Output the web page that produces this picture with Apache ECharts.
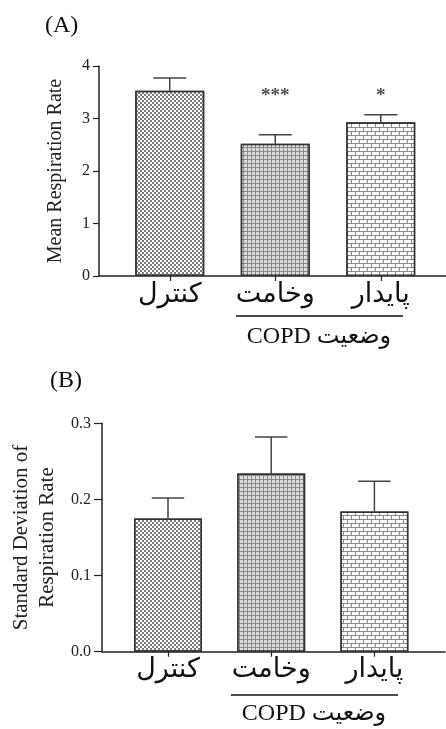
<!DOCTYPE html>
<html>
<head>
<meta charset="utf-8">
<script src="https://cdn.jsdelivr.net/npm/echarts@6/dist/echarts.min.js"></script>
<style>
  html, body {margin: 0; padding: 0; background: #fff;}
  #chart {width: 446px; height: 729px;}
</style>
</head>
<body>
<div id="chart"></div>
<script>
// groups, left to right
const categories = ['کنترل', 'وخامت', 'پایدار'];
const groupLabel = 'COPD وضعیت';

// (A) mean respiration rate, with upper error (SEM)
const meanRate = [3.53, 2.52, 2.93];
const meanErr = [0.24, 0.17, 0.14];
const stars = ['', '***', '*'];
const starLevel = 3.42;
const meanTicks = {min: 0, max: 4, interval: 1};

// (B) standard deviation of respiration rate
const sdRate = [0.175, 0.234, 0.184];
const sdErr = [0.027, 0.048, 0.040];
const sdTicks = {min: 0, max: 0.3, interval: 0.1};

const serif = '"Liberation Serif", "Times New Roman", "DejaVu Serif", serif';
const arabic = '"Liberation Serif", "DejaVu Sans", sans-serif';
const ink = '#222';

// fill patterns: checker, grid, brick
const fills = [
    {
        color: '#fff',
        decal: {symbol: 'rect', symbolSize: 1, color: '#7a7a7a', dashArrayX: [[2, 2], [0, 2, 2, 0]], dashArrayY: [2, 0]},
    },
    {
        color: '#8a8a8a',
        decal: {symbol: 'rect', symbolSize: 1, color: '#dcdcdc', dashArrayX: [3, 1], dashArrayY: [3, 1]},
    },
    {
        color: '#8a8a8a',
        decal: {symbol: 'rect', symbolSize: 1, color: '#fafafa', dashArrayX: [[7, 1], [3, 1, 4, 0]], dashArrayY: [3, 1]},
    },
];

const barData = values => values.map((v, i) => ({
    value: v,
    itemStyle: {
        color: fills[i].color,
        decal: fills[i].decal,
        borderColor: '#333',
        borderWidth: 1.5,
    },
}));

const errorItem = (params, api) => {
    const x = api.value(0);
    const y = api.value(1);
    const e = api.value(2);
    const base = api.coord([x, y]);
    const top = api.coord([x, y + e]);
    const half = api.size([1, 0])[0] * 0.157;
    const style = {stroke: '#444', lineWidth: 1.5};
    return {
        type: 'group',
        children: [
            {type: 'line', shape: {x1: base[0], y1: base[1], x2: top[0], y2: top[1]}, style},
            {type: 'line', shape: {x1: top[0] - half, y1: top[1], x2: top[0] + half, y2: top[1]}, style},
        ],
    };
};

// bars live on category grids, the visible axes on wider value grids behind
const grids = [
    {left: 117, right: 12.5, top: 66, height: 210},
    {left: 99, right: 0, top: 66, height: 210},
    {left: 116.4, right: 20, top: 423.3, height: 228.4},
    {left: 99, right: 1, top: 423.3, height: 228.4},
];

const catAxis = gridIndex => ({
    type: 'category',
    gridIndex,
    data: categories,
    axisLine: {show: false},
    axisTick: {show: true, alignWithLabel: true, length: 5, lineStyle: {color: ink, width: 1.2}},
    axisLabel: {fontFamily: arabic, fontSize: 27, color: '#111', margin: 5},
});

const lineAxis = gridIndex => ({
    type: 'value',
    gridIndex,
    min: 0,
    max: 1,
    axisLine: {show: true, lineStyle: {color: ink, width: 1.5}},
    axisTick: {show: false},
    axisLabel: {show: false},
    splitLine: {show: false},
});

const hiddenY = (gridIndex, t) => ({
    type: 'value', gridIndex, min: t.min, max: t.max, interval: t.interval, show: false, splitLine: {show: false},
});

const shownY = (gridIndex, t, name, nameGap, nameSize, tick, digits) => ({
    type: 'value',
    gridIndex,
    min: t.min,
    max: t.max,
    interval: t.interval,
    name,
    nameLocation: 'middle',
    nameGap,
    nameTextStyle: {fontFamily: serif, fontSize: nameSize, color: ink, lineHeight: 26},
    axisLine: {show: true, lineStyle: {color: ink, width: 1.5}},
    axisTick: {show: true, length: tick, lineStyle: {color: ink, width: 1.2}},
    axisLabel: {fontFamily: serif, fontSize: 16, color: ink, margin: tick + 3, formatter: v => v.toFixed(digits)},
    splitLine: {show: false},
});

const chart = echarts.init(document.getElementById('chart'), null, {renderer: 'canvas'});

chart.setOption({
    animation: false,
    backgroundColor: '#fff',
    grid: grids,
    xAxis: [catAxis(0), lineAxis(1), catAxis(2), lineAxis(3)],
    yAxis: [
        hiddenY(0, meanTicks),
        shownY(1, meanTicks, 'Mean Respiration Rate', 30, 20, 6, 0),
        hiddenY(2, sdTicks),
        shownY(3, sdTicks, 'Standard Deviation of\nRespiration Rate', 42, 21, 8, 1),
    ],
    series: [
        {type: 'bar', xAxisIndex: 0, yAxisIndex: 0, barWidth: 69, data: barData(meanRate)},
        {
            type: 'custom', xAxisIndex: 0, yAxisIndex: 0, z: 3, renderItem: errorItem,
            data: meanRate.map((v, i) => [i, v, meanErr[i]]),
        },
        {
            type: 'scatter', xAxisIndex: 0, yAxisIndex: 0, symbolSize: 0, z: 4,
            data: stars.map((s, i) => [i, starLevel, s]).filter(d => d[2]),
            label: {show: true, position: 'inside', formatter: p => p.value[2], fontFamily: serif, fontSize: 19, fontWeight: 'bold', color: '#222'},
        },
        {type: 'bar', xAxisIndex: 2, yAxisIndex: 2, barWidth: 68, data: barData(sdRate)},
        {
            type: 'custom', xAxisIndex: 2, yAxisIndex: 2, z: 3, renderItem: errorItem,
            data: sdRate.map((v, i) => [i, v, sdErr[i]]),
        },
    ],
    graphic: [
        {type: 'text', left: 45, top: 14, style: {text: '(A)', font: '24px ' + serif, fill: '#111'}},
        {type: 'text', left: 50, top: 369, style: {text: '(B)', font: '24px ' + serif, fill: '#111'}},
        {type: 'line', shape: {x1: 236, y1: 316, x2: 403, y2: 316}, style: {stroke: '#111', lineWidth: 1.5}},
        {type: 'line', shape: {x1: 231, y1: 695, x2: 398, y2: 695}, style: {stroke: '#111', lineWidth: 1.5}},
        {type: 'text', x: 319, y: 337, style: {text: groupLabel, font: '24px ' + arabic, fill: '#111', align: 'center', verticalAlign: 'middle'}},
        {type: 'text', x: 314, y: 714, style: {text: groupLabel, font: '24px ' + arabic, fill: '#111', align: 'center', verticalAlign: 'middle'}},
    ],
});
</script>
</body>
</html>
